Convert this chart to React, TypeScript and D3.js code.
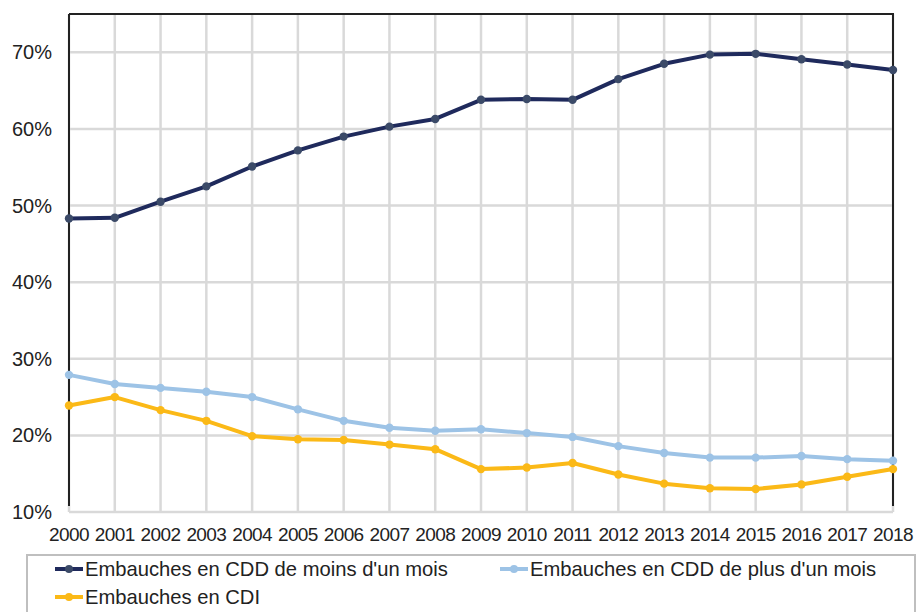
import React from "react";
import * as d3 from "d3";

const years = [2000, 2001, 2002, 2003, 2004, 2005, 2006, 2007, 2008, 2009, 2010, 2011, 2012, 2013, 2014, 2015, 2016, 2017, 2018];
const cddMoins = [48.3, 48.4, 50.5, 52.5, 55.1, 57.2, 59.0, 60.3, 61.3, 63.8, 63.9, 63.8, 66.5, 68.5, 69.7, 69.8, 69.1, 68.4, 67.7];
const cddPlus = [27.9, 26.7, 26.2, 25.7, 25.0, 23.4, 21.9, 21.0, 20.6, 20.8, 20.3, 19.8, 18.6, 17.7, 17.1, 17.1, 17.3, 16.9, 16.7];
const cdi = [23.9, 25.0, 23.3, 21.9, 19.9, 19.5, 19.4, 18.8, 18.2, 15.6, 15.8, 16.4, 14.9, 13.7, 13.1, 13.0, 13.6, 14.6, 15.6];
const yTicks = [10, 20, 30, 40, 50, 60, 70];

const seriesNames = [
  "Embauches en CDD de moins d'un mois",
  "Embauches en CDD de plus d'un mois",
  "Embauches en CDI",
];
const seriesColors = ["#1f2a5c", "#9dc3e6", "#fbb917"];
const markerColors = ["#3b4a68", "#9dc3e6", "#fbb917"];

export default function App() {
  const W = 916, H = 612;
  const left = 69, right = 893, top = 14, bottom = 512;
  const x = d3.scaleLinear().domain([2000, 2018]).range([left, right]);
  const y = d3.scaleLinear().domain([10, 75]).range([bottom, top]);
  const line = d3.line<number>().x((_, i) => x(years[i])).y((d) => y(d));
  const data = [cddMoins, cddPlus, cdi];
  const font = "Liberation Sans, Arial, sans-serif";

  const legendItems = [
    { lx: 55, ly: 569 },
    { lx: 500, ly: 569 },
    { lx: 55, ly: 597 },
  ];

  return (
    <svg width={W} height={H} style={{ position: "absolute", left: 0, top: 0, background: "#fff" }} fontFamily={font}>
      {years.map((yr) => (
        <line key={"v" + yr} x1={x(yr)} x2={x(yr)} y1={top} y2={bottom} stroke="#d9d9d9" strokeWidth={2.5} />
      ))}
      {yTicks.map((t) => (
        <line key={"h" + t} x1={left} x2={right} y1={y(t)} y2={y(t)} stroke="#d9d9d9" strokeWidth={2.5} />
      ))}
      <line x1={left} x2={right + 1} y1={top} y2={top} stroke="#222" strokeWidth={2} />
      <line x1={left} x2={left} y1={top} y2={bottom - 6} stroke="#222" strokeWidth={2} />
      <line x1={right} x2={right} y1={top} y2={bottom - 6} stroke="#222" strokeWidth={2} />

      {yTicks.map((t) => (
        <text key={"yl" + t} x={52} y={y(t) + 7} textAnchor="end" fontSize={20} fill="#222">
          {t}%
        </text>
      ))}
      {years.map((yr) => (
        <text key={"xl" + yr} x={x(yr)} y={541} textAnchor="middle" fontSize={19} letterSpacing={-0.6} fill="#222">
          {yr}
        </text>
      ))}

      {data.map((s, si) => (
        <g key={"s" + si}>
          <path d={line(s) || ""} fill="none" stroke={seriesColors[si]} strokeWidth={4} strokeLinejoin="round" />
          {s.map((v, i) => (
            <circle key={i} cx={x(years[i])} cy={y(v)} r={4.2} fill={markerColors[si]} />
          ))}
        </g>
      ))}

      <rect x={27} y={555} width={888} height={70} fill="none" stroke="#bfbfbf" strokeWidth={2} />
      {legendItems.map((it, i) => (
        <g key={"lg" + i}>
          <line x1={it.lx} x2={it.lx + 28} y1={it.ly} y2={it.ly} stroke={seriesColors[i]} strokeWidth={4} />
          <circle cx={it.lx + 14} cy={it.ly} r={4} fill={markerColors[i]} />
          <text x={it.lx + 30} y={it.ly + 7} fontSize={20.2} fill="#222">
            {seriesNames[i]}
          </text>
        </g>
      ))}
    </svg>
  );
}
